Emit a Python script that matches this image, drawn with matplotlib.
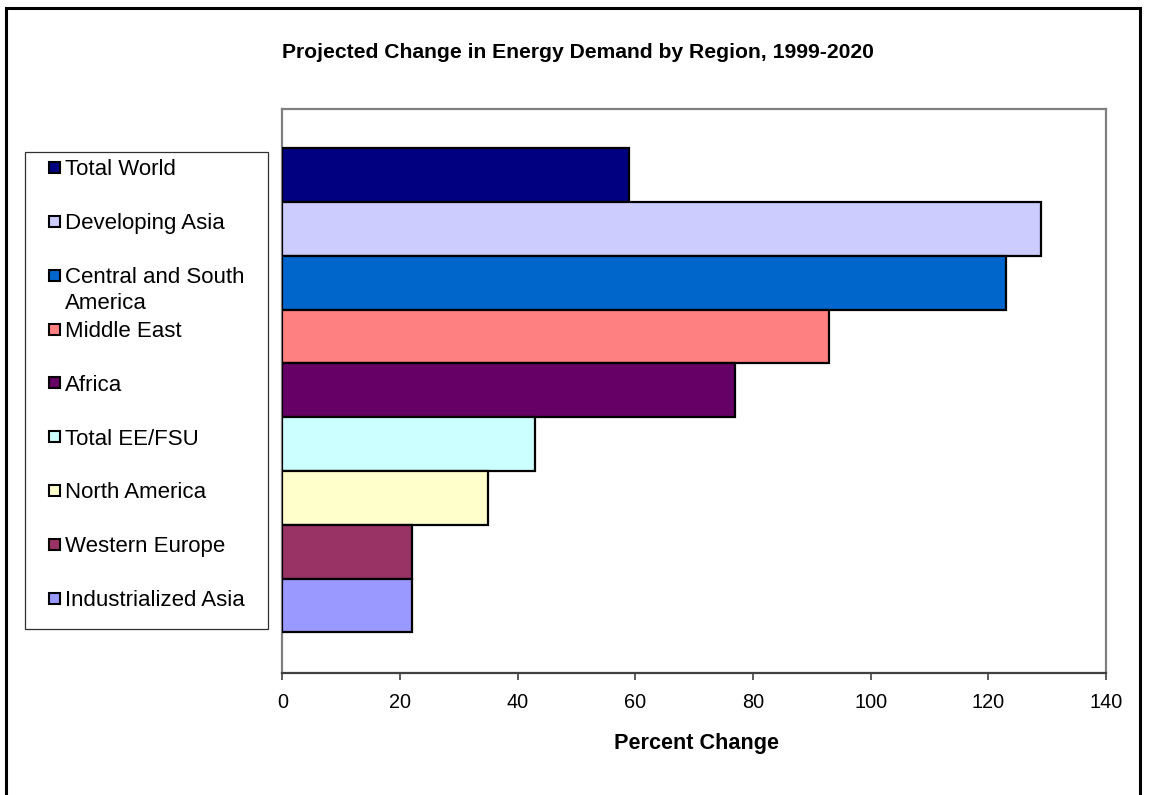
import matplotlib
matplotlib.use("Agg")
import matplotlib.pyplot as plt
from matplotlib.patches import Rectangle

plt.rcParams['font.family'] = ['Liberation Sans', 'DejaVu Sans']

# Data: regions listed top to bottom, projected percent change 1999-2020
regions = ["Total World", "Developing Asia", "Central and South America",
           "Middle East", "Africa", "Total EE/FSU", "North America",
           "Western Europe", "Industrialized Asia"]
legend_labels = ["Total World", "Developing Asia", "Central and South\nAmerica",
                 "Middle East", "Africa", "Total EE/FSU", "North America",
                 "Western Europe", "Industrialized Asia"]
percent_change = [59, 129, 123, 93, 77, 43, 35, 22, 22]
colors = ["#000080", "#CCCCFF", "#0066CC", "#FF8080", "#660066",
          "#CCFFFF", "#FFFFCC", "#993366", "#9999FF"]
x_ticks = [0, 20, 40, 60, 80, 100, 120, 140]

W, H = 1153, 795
fig = plt.figure(figsize=(W / 100, H / 100), dpi=100)


def fx(px):
    return px / W


def fy(py):
    return 1 - py / H


# Outer chart border
fig.patches.append(Rectangle((fx(6), fy(805)), fx(1140) - fx(6), fy(8) - fy(805),
                             transform=fig.transFigure, fill=False,
                             edgecolor="black", linewidth=2.2))

# Plot area
left, right, top, bottom = 282.3, 1106, 109, 673.3
ax = fig.add_axes([fx(left), fy(bottom), fx(right) - fx(left), fy(top) - fy(bottom)])
ypos = list(range(len(regions)))
ax.barh(ypos, percent_change, height=1.0, color=colors,
        edgecolor="black", linewidth=1.6, zorder=3)
ax.set_xlim(0, 140)
ax.set_ylim(9.262, -1.23)
ax.set_yticks([])
ax.set_xticks(x_ticks)
ax.set_xticklabels([str(t) for t in x_ticks])
ax.tick_params(axis="x", direction="out", length=5, width=1.2, color="#404040",
               labelsize=14.3, pad=9)
for side in ("top", "right", "left"):
    ax.spines[side].set_color("#808080")
    ax.spines[side].set_linewidth(1.6)
ax.spines["bottom"].set_color("#404040")
ax.spines["bottom"].set_linewidth(1.6)

# Title and axis label
fig.text(fx(578), fy(57.5), "Projected Change in Energy Demand by Region, 1999-2020",
         ha="center", va="baseline", fontsize=15.2, fontweight="bold")
fig.text(fx(697), fy(749), "Percent Change", ha="center", va="baseline",
         fontsize=15.6, fontweight="bold")

# Legend box
fig.patches.append(Rectangle((fx(25), fy(629.3)), fx(268.3) - fx(25), fy(152.3) - fy(629.3),
                             transform=fig.transFigure, fill=True, facecolor="white",
                             edgecolor="#303030", linewidth=0.9))
first_center, step, line_gap = 167.3, 53.9, 25.7
for i, (label, col) in enumerate(zip(legend_labels, colors)):
    cy = first_center + i * step
    fig.patches.append(Rectangle((fx(49), fy(cy + 5.5)), fx(11), fy(0) - fy(11),
                                 transform=fig.transFigure, facecolor=col,
                                 edgecolor="black", linewidth=1.5))
    for j, line in enumerate(label.split("\n")):
        fig.text(fx(65), fy(cy + 7.8 + j * line_gap), line, ha="left", va="baseline",
                 fontsize=16)

fig.savefig("out.png", dpi=100)
